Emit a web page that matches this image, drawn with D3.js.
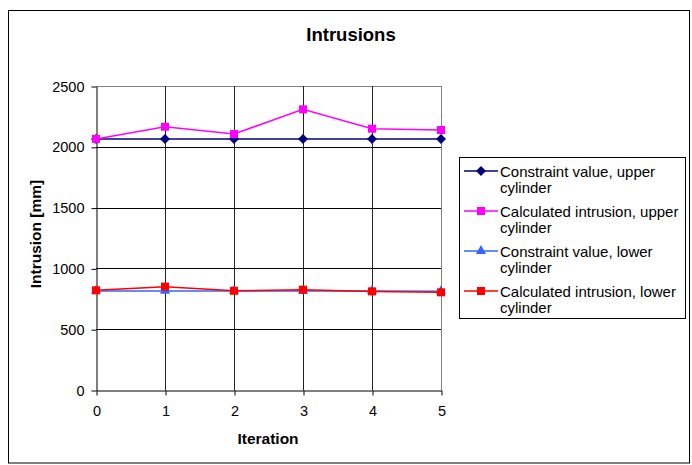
<!DOCTYPE html>
<html>
<head>
<meta charset="utf-8">
<script src="https://cdn.jsdelivr.net/npm/d3@7"></script>
<style>
  html, body { margin: 0; padding: 0; background: #fff; }
  svg { display: block; font-family: Arial, "Liberation Sans", sans-serif; }
</style>
</head>
<body>
<svg id="chart" width="692" height="465"></svg>
<script>
// Iteration numbers along the x axis
const iterations = [0, 1, 2, 3, 4, 5];
// Intrusion values in mm for each series
const constraintUpper = [2065, 2065, 2065, 2065, 2065, 2065];
const calculatedUpper = [2065, 2165, 2105, 2308, 2149, 2138];
const constraintLower = [815, 815, 815, 815, 815, 812];
const calculatedLower = [820, 850, 816, 825, 811, 803];
const yTicks = [0, 500, 1000, 1500, 2000, 2500];
const seriesNames = [
  ["Constraint value, upper", "cylinder"],
  ["Calculated intrusion, upper", "cylinder"],
  ["Constraint value, lower", "cylinder"],
  ["Calculated intrusion, lower", "cylinder"]
];

const series = [
  { values: constraintUpper, color: "#000080", marker: "diamond" },
  { values: calculatedUpper, color: "#FF00FF", marker: "square" },
  { values: constraintLower, color: "#3366FF", marker: "triangle" },
  { values: calculatedLower, color: "#FF0000", marker: "square" }
];

const FONT = "Arial, 'Liberation Sans', sans-serif";
const svg = d3.select("#chart");
const plot = { left: 96, right: 441, top: 86, bottom: 390 };

// Outer frame
svg.append("rect")
  .attr("x", 8.5).attr("y", 10.5).attr("width", 681).attr("height", 452.5)
  .attr("fill", "#fff").attr("stroke", "#000").attr("stroke-width", 1);

const x = d3.scaleLinear().domain([0, 5]).range([plot.left, plot.right]);
const y = d3.scaleLinear().domain([0, 2500]).range([plot.bottom, plot.top]);

// Horizontal gridlines
svg.append("g").selectAll("line").data(yTicks.slice(1))
  .join("line")
  .attr("x1", plot.left).attr("x2", plot.right)
  .attr("y1", d => Math.round(y(d)) + 0.5).attr("y2", d => Math.round(y(d)) + 0.5)
  .attr("stroke", d => d === 2500 ? "#808080" : "#000").attr("stroke-width", 1);

// Vertical gridlines
svg.append("g").selectAll("line").data(iterations.slice(1))
  .join("line")
  .attr("x1", d => Math.round(x(d)) + 0.5).attr("x2", d => Math.round(x(d)) + 0.5)
  .attr("y1", plot.top).attr("y2", plot.bottom)
  .attr("stroke", d => d === 5 ? "#808080" : "#222").attr("stroke-width", 1);

// Y axis
const yAxis = svg.append("g")
  .attr("transform", `translate(${plot.left + 0.5},0.5)`)
  .call(d3.axisLeft(y).tickValues(yTicks).tickFormat(d3.format("d"))
    .tickSize(5).tickSizeOuter(0).tickPadding(7));
yAxis.select(".domain").attr("stroke", "#000");
yAxis.selectAll(".tick line").attr("stroke", "#000");
yAxis.selectAll("text").attr("font-size", 14.5).attr("fill", "#000").attr("font-family", FONT);

// X axis
const xAxis = svg.append("g")
  .attr("transform", `translate(0.5,${plot.bottom + 0.5})`)
  .call(d3.axisBottom(x).tickValues(iterations).tickFormat(d3.format("d"))
    .tickSize(5).tickSizeOuter(0).tickPadding(10));
xAxis.select(".domain").attr("stroke", "#000");
xAxis.selectAll(".tick line").attr("stroke", "#000");
xAxis.selectAll("text").attr("font-size", 14.5).attr("fill", "#000").attr("font-family", FONT);

// Title and axis titles
svg.append("text").attr("x", 351).attr("y", 41).attr("text-anchor", "middle")
  .attr("font-size", 18.5).attr("font-weight", "bold").text("Intrusions");
svg.append("text").attr("x", 268).attr("y", 444).attr("text-anchor", "middle")
  .attr("font-size", 15.5).attr("font-weight", "bold").text("Iteration");
svg.append("text").attr("transform", "translate(41,234) rotate(-90)")
  .attr("text-anchor", "middle").attr("font-size", 15.5).attr("font-weight", "bold")
  .text("Intrusion [mm]");

// Marker shapes
function markerPath(type) {
  if (type === "diamond") return "M0,-5L5,0L0,5L-5,0Z";
  if (type === "triangle") return d3.symbol(d3.symbolTriangle, 45)();
  return d3.symbol(d3.symbolSquare, 64)();
}

const line = d3.line().x((d, i) => x(iterations[i])).y(d => y(d));

series.forEach(s => {
  const g = svg.append("g");
  g.append("path").datum(s.values).attr("d", line)
    .attr("fill", "none").attr("stroke", s.color).attr("stroke-width", 1.5);
  g.selectAll("path.m").data(s.values).join("path").attr("class", "m")
    .attr("transform", (d, i) => `translate(${x(iterations[i])},${y(d)})`)
    .attr("d", markerPath(s.marker))
    .attr("fill", s.color).attr("stroke", "none");
});

// Legend
const legend = svg.append("g");
legend.append("rect").attr("x", 459.5).attr("y", 157.5).attr("width", 226).attr("height", 161)
  .attr("fill", "#fff").attr("stroke", "#000");
series.forEach((s, i) => {
  const cy = 171 + i * 40;
  legend.append("line").attr("x1", 464).attr("x2", 498).attr("y1", cy).attr("y2", cy)
    .attr("stroke", s.color).attr("stroke-width", 1.5);
  legend.append("path").attr("transform", `translate(481,${cy})`)
    .attr("d", markerPath(s.marker)).attr("fill", s.color);
  const t = legend.append("text").attr("x", 500).attr("y", cy + 5.5).attr("font-size", 15);
  seriesNames[i].forEach((ln, j) => {
    t.append("tspan").attr("x", 500).attr("dy", j === 0 ? 0 : 16.5).text(ln);
  });
});
</script>
</body>
</html>
